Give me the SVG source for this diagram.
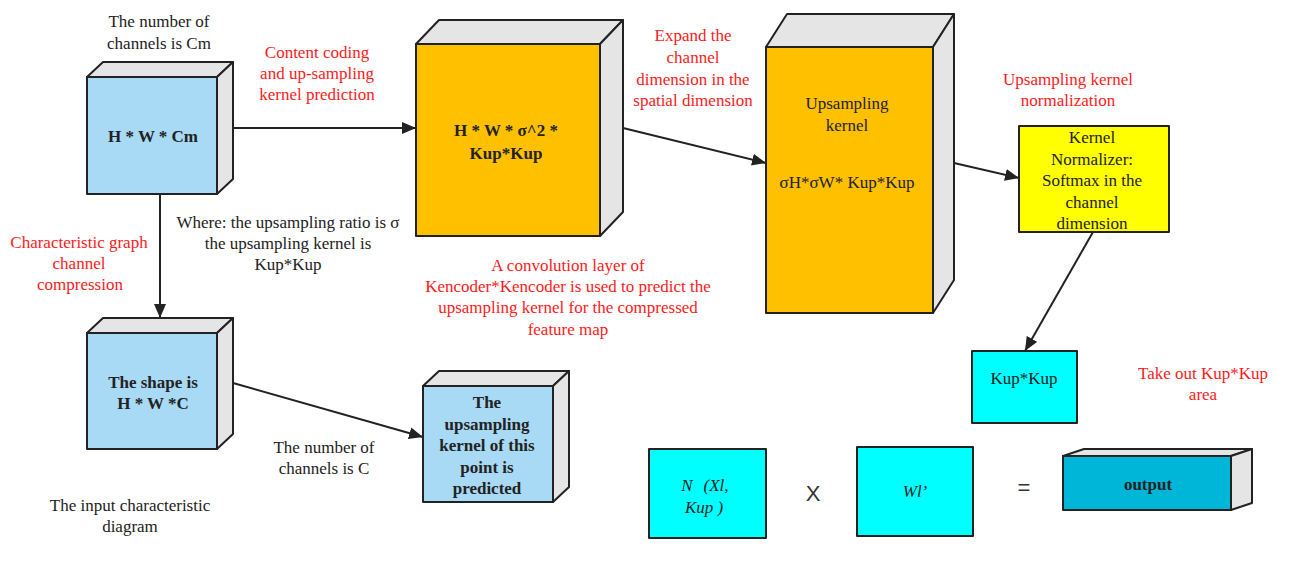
<svg xmlns="http://www.w3.org/2000/svg" width="1306" height="569" viewBox="0 0 1306 569">
<style>
.t{font-family:"Liberation Serif","Times New Roman",serif;font-size:17px;fill:#222;text-anchor:middle}
.b{font-weight:bold}
.i{font-style:italic}
.r{fill:#ff1a1a}
.s{font-family:"Liberation Sans",Arial,sans-serif;font-size:22px;fill:#333;text-anchor:middle}
.f{stroke:#222;stroke-width:2;stroke-linejoin:round}
.blue{fill:#a8d9f5}
.org{fill:#ffc000}
.gray{fill:#e5e5e5}
.yel{fill:#ffff00}
.cyan{fill:#00ffff}
.out{fill:#00b6d8}
.c{stroke:#222;stroke-width:2;fill:none;marker-end:url(#ah)}
</style>
<defs>
<marker id="ah" markerUnits="userSpaceOnUse" markerWidth="15" markerHeight="12" refX="14" refY="6" orient="auto">
<path d="M0,0 L14,6 L0,12 z" fill="#222"/>
</marker>
</defs>
<rect width="1306" height="569" fill="#fff"/>

<g id="connectors">
<line class="c" x1="233" y1="128" x2="416" y2="128"/>
<line class="c" x1="623" y1="128" x2="766" y2="163"/>
<line class="c" x1="954" y1="163" x2="1019" y2="178"/>
<line class="c" x1="160" y1="194" x2="160" y2="318"/>
<line class="c" x1="233" y1="383" x2="423" y2="437"/>
<line class="c" x1="1093" y1="232" x2="1025" y2="351"/>
</g>

<g id="input-cube">
<polygon class="f gray" points="87,77 103,62 233,62 217,77"/>
<polygon class="f gray" points="217,77 233,62 233,179 217,194"/>
<rect class="f blue" x="87" y="77" width="130" height="117"/>
<text class="t b" x="153" y="142">H * W * Cm</text>
</g>

<g id="compressed-cube">
<polygon class="f gray" points="87,333 103,318 233,318 217,333"/>
<polygon class="f gray" points="217,333 233,318 233,434 217,449"/>
<rect class="f blue" x="87" y="333" width="130" height="116"/>
<text class="t b" x="153" y="388">The shape is</text>
<text class="t b" x="153" y="409">H * W *C</text>
</g>

<g id="encoder-cube">
<polygon class="f gray" points="416,44 439,20 623,20 600,44"/>
<polygon class="f gray" points="600,44 623,20 623,212 600,236"/>
<rect class="f org" x="416" y="44" width="184" height="192"/>
<text class="t b" x="506" y="136">H * W * σ^2 *</text>
<text class="t b" x="506" y="159">Kup*Kup</text>
</g>

<g id="kernel-cube">
<polygon class="f gray" points="766,47 787,14 954,14 933,47"/>
<polygon class="f gray" points="933,47 954,14 954,280 933,313"/>
<rect class="f org" x="766" y="47" width="167" height="266"/>
<text class="t" x="847" y="109">Upsampling</text>
<text class="t" x="847" y="131">kernel</text>
<text class="t" x="847" y="188">σH*σW* Kup*Kup</text>
</g>

<g id="predicted-cube">
<polygon class="f gray" points="423,386 439,371 569,371 553,386"/>
<polygon class="f gray" points="553,386 569,371 569,487 553,502"/>
<rect class="f blue" x="423" y="386" width="130" height="116"/>
<text class="t b" x="487" y="408">The</text>
<text class="t b" x="487" y="430">upsampling</text>
<text class="t b" x="487" y="451">kernel of this</text>
<text class="t b" x="487" y="473">point is</text>
<text class="t b" x="487" y="494">predicted</text>
</g>

<g id="normalizer">
<rect class="f yel" x="1019" y="126" width="150" height="106"/>
<text class="t" x="1092" y="143">Kernel</text>
<text class="t" x="1092" y="165">Normalizer:</text>
<text class="t" x="1092" y="186">Softmax in the</text>
<text class="t" x="1092" y="208">channel</text>
<text class="t" x="1092" y="229">dimension</text>
</g>

<g id="kupkup">
<rect class="f cyan" x="972" y="351" width="105" height="72"/>
<text class="t" x="1024" y="384">Kup*Kup</text>
</g>

<g id="n-box">
<rect class="f cyan" x="649" y="449" width="117" height="89"/>
<text class="t i" x="706" y="491"><tspan x="687">N</tspan><tspan x="716">(Xl,</tspan></text>
<text class="t i" x="704" y="513">Kup )</text>
</g>

<g id="times-sign">
<text class="s" x="813" y="501">X</text>
</g>

<g id="w-box">
<rect class="f cyan" x="857" y="447" width="116" height="89"/>
<text class="t i" x="915" y="497">Wl’</text>
</g>

<g id="equals-sign">
<text class="s" x="1024" y="495">=</text>
</g>

<g id="output">
<polygon class="f gray" points="1063,456 1084,449 1252,449 1231,456"/>
<polygon class="f gray" points="1231,456 1252,449 1252,503 1231,510"/>
<rect class="f out" x="1063" y="456" width="168" height="54"/>
<text class="t b" x="1148" y="490">output</text>
</g>

<g id="labels">
<text class="t" x="159" y="27">The number of</text>
<text class="t" x="159" y="49">channels is Cm</text>
<text class="t r" x="317" y="58">Content coding</text>
<text class="t r" x="317" y="79">and up-sampling</text>
<text class="t r" x="317" y="100">kernel prediction</text>
<text class="t r" x="693" y="41">Expand the</text>
<text class="t r" x="693" y="63">channel</text>
<text class="t r" x="693" y="85">dimension in the</text>
<text class="t r" x="693" y="106">spatial dimension</text>
<text class="t r" x="1068" y="85">Upsampling kernel</text>
<text class="t r" x="1068" y="106">normalization</text>
<text class="t" x="288" y="228">Where: the upsampling ratio is σ</text>
<text class="t" x="288" y="249">the upsampling kernel is</text>
<text class="t" x="288" y="270">Kup*Kup</text>
<text class="t r" x="79" y="248">Characteristic graph</text>
<text class="t r" x="79" y="269">channel</text>
<text class="t r" x="80" y="290">compression</text>
<text class="t r" x="568" y="271">A convolution layer of</text>
<text class="t r" x="568" y="292">Kencoder*Kencoder is used to predict the</text>
<text class="t r" x="568" y="313">upsampling kernel for the compressed</text>
<text class="t r" x="568" y="335">feature map</text>
<text class="t" x="324" y="453">The number of</text>
<text class="t" x="324" y="474">channels is C</text>
<text class="t" x="130" y="511">The input characteristic</text>
<text class="t" x="130" y="532">diagram</text>
<text class="t r" x="1203" y="379">Take out Kup*Kup</text>
<text class="t r" x="1203" y="400">area</text>
</g>
</svg>
